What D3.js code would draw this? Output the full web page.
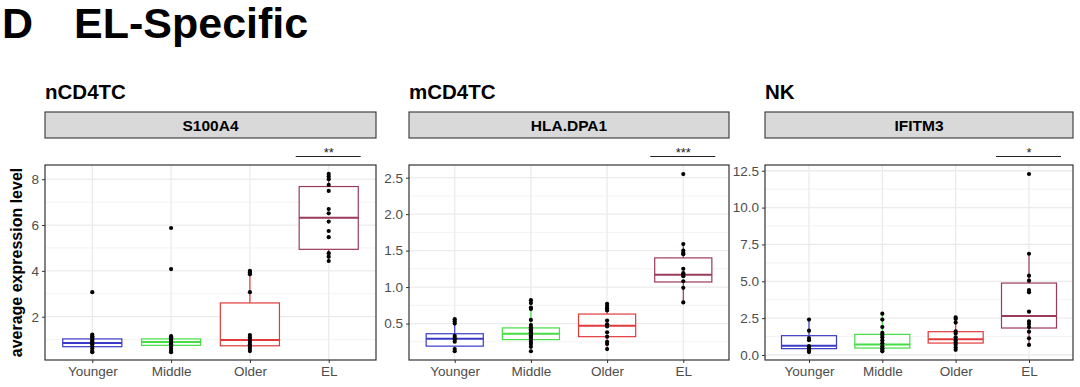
<!DOCTYPE html>
<html>
<head>
<meta charset="utf-8">
<script src="https://cdn.jsdelivr.net/npm/d3@7"></script>
<style>
  body { margin: 0; background: #fff; }
  svg { font-family: "Liberation Sans", Arial, sans-serif; }
</style>
</head>
<body>
<svg id="chart" width="1080" height="387"></svg>
<script>
// groups along the x axis
const groups = ['Younger', 'Middle', 'Older', 'EL']
const groupColors = ['#3a3ac8', '#44dd44', '#e03a3a', '#9a3a5c']

const cellTypes = ['nCD4TC', 'mCD4TC', 'NK']
const genes = ['S100A4', 'HLA.DPA1', 'IFITM3']
const signif = ['**', '***', '*']

// y axis domains and ticks
const yDomains = [[0.11, 8.62], [0.0, 2.674], [-0.34, 12.89]]
const yTicks = [[2, 4, 6, 8], [0.5, 1.0, 1.5, 2.0, 2.5], [0, 2.5, 5, 7.5, 10, 12.5]]
const yTickFmt = [d3.format('d'), d3.format('.1f'), d3.format('.1f')]

// box stats per panel per group: [whiskerLow, q1, median, q3, whiskerHigh]
const boxesS100A4 = [
  [0.45, 0.69, 0.85, 1.03, 1.22],
  [0.45, 0.75, 0.9, 1.03, 1.15],
  [0.5, 0.73, 0.98, 2.6, 4.0],
  [4.43, 4.94, 6.32, 7.68, 8.23]
]
const boxesHLA = [
  [0.12, 0.19, 0.29, 0.36, 0.56],
  [0.12, 0.28, 0.36, 0.44, 0.68],
  [0.15, 0.32, 0.47, 0.63, 0.78],
  [0.79, 1.07, 1.17, 1.40, 1.59]
]
const boxesIFITM3 = [
  [0.2, 0.43, 0.63, 1.31, 2.4],
  [0.25, 0.47, 0.72, 1.40, 2.8],
  [0.34, 0.81, 1.06, 1.58, 2.6],
  [0.65, 1.83, 2.65, 4.88, 6.85]
]

// individual points
const ptsS100A4 = [
  [3.07, 1.22, 1.15, 1.1, 1.0, 0.95, 0.9, 0.85, 0.8, 0.7, 0.6, 0.5, 0.45],
  [5.87, 4.08, 1.15, 1.1, 1.05, 1.0, 0.95, 0.9, 0.85, 0.8, 0.7, 0.6, 0.5, 0.45],
  [4.0, 3.93, 3.85, 3.07, 1.2, 1.1, 1.0, 0.9, 0.8, 0.7, 0.6, 0.5],
  [8.23, 8.12, 8.0, 7.75, 7.49, 6.7, 6.51, 6.15, 5.74, 5.47, 4.77, 4.62, 4.43]
]
const ptsHLA = [
  [0.56, 0.53, 0.5, 0.33, 0.3, 0.28, 0.25, 0.15, 0.12],
  [0.82, 0.78, 0.72, 0.7, 0.55, 0.48, 0.45, 0.42, 0.4, 0.38, 0.36, 0.34, 0.32, 0.3, 0.28, 0.25, 0.22, 0.18, 0.12],
  [0.77, 0.74, 0.71, 0.68, 0.54, 0.49, 0.46, 0.38, 0.32, 0.25, 0.22, 0.15],
  [2.55, 1.59, 1.5, 1.47, 1.45, 1.25, 1.19, 1.17, 1.15, 1.08, 0.99, 0.79]
]
const ptsIFITM3 = [
  [2.4, 1.65, 1.15, 1.0, 0.6, 0.45, 0.3, 0.2],
  [2.8, 2.4, 1.9, 1.5, 1.35, 1.2, 1.0, 0.8, 0.6, 0.45, 0.35, 0.25],
  [2.55, 2.45, 2.2, 1.6, 1.45, 1.2, 1.0, 0.85, 0.7, 0.5, 0.35],
  [12.28, 6.87, 5.38, 5.04, 4.41, 4.25, 2.94, 2.28, 2.1, 1.9, 1.58, 1.13, 0.68]
]

const boxes = [boxesS100A4, boxesHLA, boxesIFITM3]
const points = [ptsS100A4, ptsHLA, ptsIFITM3]

// layout
const panelX = [[45, 376], [409, 729], [765, 1073]]
const plotTop = 165, plotBottom = 360
const stripTop = 112, stripBottom = 138

const svg = d3.select('#chart')

svg.append('text').text('D')
  .attr('x', 2).attr('y', 38)
  .attr('font-size', 43).attr('font-weight', 'bold')
svg.append('text').text('EL-Specific')
  .attr('x', 74).attr('y', 38)
  .attr('font-size', 43).attr('font-weight', 'bold')

svg.append('text').text('average expression level')
  .attr('transform', `translate(22, ${(plotTop + plotBottom) / 2}) rotate(-90)`)
  .attr('text-anchor', 'middle')
  .attr('font-size', 16).attr('font-weight', 'bold')

cellTypes.forEach((ct, p) => {
  const [x0, x1] = panelX[p]
  const x = d3.scaleLinear().domain([0.4, groups.length + 0.6]).range([x0, x1])
  const y = d3.scaleLinear().domain(yDomains[p]).range([plotBottom, plotTop])
  const g = svg.append('g')

  // cell type title
  g.append('text').text(ct)
    .attr('x', x0).attr('y', 99)
    .attr('font-size', 20.5).attr('font-weight', 'bold')

  // strip
  g.append('rect')
    .attr('x', x0).attr('y', stripTop)
    .attr('width', x1 - x0).attr('height', stripBottom - stripTop)
    .attr('fill', '#d9d9d9').attr('stroke', '#333').attr('stroke-width', 1.1)
  g.append('text').text(genes[p])
    .attr('x', (x0 + x1) / 2).attr('y', (stripTop + stripBottom) / 2 + 5.5)
    .attr('text-anchor', 'middle')
    .attr('font-size', 15.5).attr('font-weight', 'bold')

  // significance bar over EL
  const sx = x(groups.length)
  g.append('line')
    .attr('x1', sx - 33).attr('x2', sx + 32)
    .attr('y1', 156.5).attr('y2', 156.5)
    .attr('stroke', '#222').attr('stroke-width', 1)
  g.append('text').text(signif[p])
    .attr('x', sx).attr('y', 157)
    .attr('text-anchor', 'middle')
    .attr('font-size', 13).attr('fill', '#222')

  // grid
  const ticks = yTicks[p]
  const step = ticks[1] - ticks[0]
  const minor = d3.range(ticks[0] - step / 2, yDomains[p][1], step)
    .filter(v => v > yDomains[p][0] && v < yDomains[p][1])
  g.selectAll('.minor').data(minor).join('line')
    .attr('x1', x0).attr('x2', x1)
    .attr('y1', d => y(d)).attr('y2', d => y(d))
    .attr('stroke', '#f0f0f0').attr('stroke-width', 0.9)
  g.selectAll('.major').data(ticks).join('line')
    .attr('x1', x0).attr('x2', x1)
    .attr('y1', d => y(d)).attr('y2', d => y(d))
    .attr('stroke', '#ebebeb').attr('stroke-width', 1.3)
  g.selectAll('.vgrid').data(groups).join('line')
    .attr('x1', (d, i) => x(i + 1)).attr('x2', (d, i) => x(i + 1))
    .attr('y1', plotTop).attr('y2', plotBottom)
    .attr('stroke', '#ebebeb').attr('stroke-width', 1.3)

  // boxes
  const bw = 0.375
  boxes[p].forEach((b, i) => {
    const [lo, q1, med, q3, hi] = b
    const cx = x(i + 1)
    const col = groupColors[i]
    g.append('line')
      .attr('x1', cx).attr('x2', cx).attr('y1', y(hi)).attr('y2', y(q3))
      .attr('stroke', col).attr('stroke-width', 1.2)
    g.append('line')
      .attr('x1', cx).attr('x2', cx).attr('y1', y(q1)).attr('y2', y(lo))
      .attr('stroke', col).attr('stroke-width', 1.2)
    g.append('rect')
      .attr('x', x(i + 1 - bw)).attr('width', x(i + 1 + bw) - x(i + 1 - bw))
      .attr('y', y(q3)).attr('height', y(q1) - y(q3))
      .attr('fill', 'white').attr('stroke', col).attr('stroke-width', 1.2)
    g.append('line')
      .attr('x1', x(i + 1 - bw)).attr('x2', x(i + 1 + bw))
      .attr('y1', y(med)).attr('y2', y(med))
      .attr('stroke', col).attr('stroke-width', 2)
  })

  // points
  points[p].forEach((vals, i) => {
    g.selectAll(null).data(vals).join('circle')
      .attr('cx', x(i + 1)).attr('cy', d => y(d))
      .attr('r', 2.1).attr('fill', '#000')
  })

  // panel border
  g.append('rect')
    .attr('x', x0).attr('y', plotTop)
    .attr('width', x1 - x0).attr('height', plotBottom - plotTop)
    .attr('fill', 'none').attr('stroke', '#333').attr('stroke-width', 1.2)

  // axes
  const yAxis = g.append('g')
    .attr('transform', `translate(${x0},0)`)
    .call(d3.axisLeft(y).tickValues(ticks).tickFormat(yTickFmt[p]).tickSize(3).tickPadding(3))
  yAxis.select('.domain').remove()
  yAxis.selectAll('line').attr('stroke', '#333')
  yAxis.selectAll('text').attr('font-size', 13.5).attr('fill', '#4d4d4d')
    .attr('font-family', '"Liberation Sans", Arial, sans-serif')

  const xAxis = g.append('g')
    .attr('transform', `translate(0,${plotBottom})`)
    .call(d3.axisBottom(x).tickValues(d3.range(1, groups.length + 1))
      .tickFormat(d => groups[d - 1]).tickSize(3).tickPadding(3))
  xAxis.select('.domain').remove()
  xAxis.selectAll('line').attr('stroke', '#333')
  xAxis.selectAll('text').attr('font-size', 13.5).attr('fill', '#4d4d4d')
    .attr('font-family', '"Liberation Sans", Arial, sans-serif')
})
</script>
</body>
</html>
